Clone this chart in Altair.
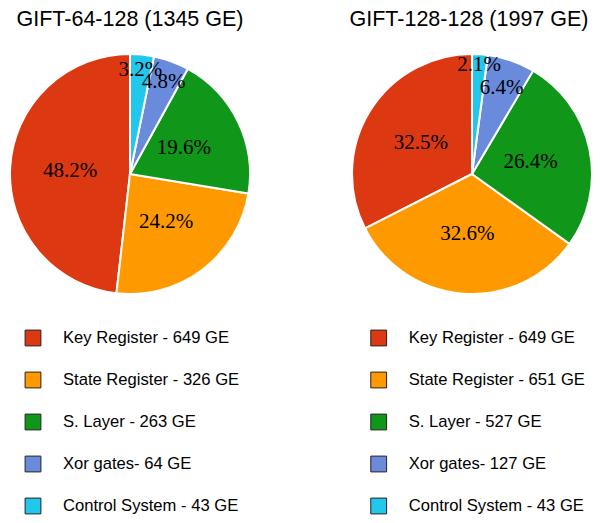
import altair as alt
import pandas as pd

# ---- data ----
models = ["GIFT-64-128", "GIFT-128-128"]
titles = ["GIFT-64-128 (1345 GE)", "GIFT-128-128 (1997 GE)"]
categories = ["Key Register", "State Register", "S. Layer", "Xor gates", "Control System"]
legend_prefix = ["Key Register -", "State Register -", "S. Layer -", "Xor gates-", "Control System -"]
ge_64 = [649, 326, 263, 64, 43]
ge_128 = [649, 651, 527, 127, 43]
pct_64 = [48.2, 24.2, 19.6, 4.8, 3.2]
pct_128 = [32.5, 32.6, 26.4, 6.4, 2.1]
colors = ["#DC3912", "#FF9900", "#109618", "#6A8BDB", "#22C7EC"]
# clockwise drawing order from 12 o'clock (Control first, Key last)
draw_order = [5, 4, 3, 2, 1]

rows = []
for m, ges, pcts in [(models[0], ge_64, pct_64), (models[1], ge_128, pct_128)]:
    for i, c in enumerate(categories):
        rows.append({
            "model": m,
            "category": c,
            "ge": ges[i],
            "pct": pcts[i],
            "ord": draw_order[i],
            "label": f"{legend_prefix[i]} {ges[i]} GE",
        })
df = pd.DataFrame(rows)
tdf = pd.DataFrame({"model": models, "title": titles})

R = 120
pie_x = alt.Scale(type="point", domain=models, range=[122, 464], padding=0)
title_x = alt.Scale(type="point", domain=models, range=[122, 461], padding=0)
legend_x = alt.Scale(type="point", domain=models, range=[25, 370.7], padding=0)
theta_scale = alt.Scale(domain=[0, 100], range=[0, 6.283185307179586])
color_scale = alt.Scale(domain=categories, range=colors)

base = alt.Chart(df).transform_window(
    end="sum(pct)",
    groupby=["model"],
    sort=[alt.SortField("ord")],
    frame=[None, 0],
).transform_calculate(
    start="datum.end - datum.pct",
    mid="datum.end - datum.pct / 2",
    lr=f"{R} * max(0.5, 0.98 - 0.0097 * datum.pct * 3.6)",
    ptxt="format(datum.pct, '.1f') + '%'",
)

arcs = base.mark_arc(radius=R, stroke="white", strokeWidth=2).encode(
    x=alt.X("model:N", scale=pie_x, axis=None),
    y=alt.value(166),
    theta=alt.Theta("start:Q", scale=theta_scale, stack=None),
    theta2="end:Q",
    color=alt.Color("category:N", scale=color_scale, legend=None),
)

pct_text = base.mark_text(
    font="Liberation Serif", fontSize=21, align="center", baseline="middle", color="black"
).encode(
    x=alt.X("model:N", scale=pie_x, axis=None),
    y=alt.value(166),
    theta=alt.Theta("mid:Q", scale=theta_scale, stack=None),
    radius=alt.Radius("lr:Q", scale=None),
    text="ptxt:N",
)

title_text = alt.Chart(tdf).mark_text(
    font="Liberation Sans", fontSize=21.5, align="center", baseline="alphabetic", color="black"
).encode(
    x=alt.X("model:N", scale=title_x, axis=None),
    y=alt.value(17.5),
    text="title:N",
)

yscale = alt.Scale(type="point", domain=categories, range=[330, 498], padding=0)

leg_sq = alt.Chart(df).mark_square(size=250, stroke="#222222", strokeWidth=1, opacity=1).encode(
    x=alt.X("model:N", scale=legend_x, axis=None),
    y=alt.Y("category:N", scale=yscale, axis=None),
    color=alt.Color("category:N", scale=color_scale, legend=None),
)

leg_txt = alt.Chart(df).mark_text(
    font="Liberation Sans", fontSize=16.6, align="left", baseline="middle", color="black", xOffset=30
).encode(
    x=alt.X("model:N", scale=legend_x, axis=None),
    y=alt.Y("category:N", scale=yscale, axis=None),
    text="label:N",
)

chart = alt.layer(arcs, pct_text, title_text, leg_sq, leg_txt).resolve_scale(
    x="independent"
).properties(
    width=584, height=507, padding=0, autosize=alt.AutoSizeParams(type="none")
).configure_view(stroke=None)

chart.save("out.html", embed_options={"renderer": "svg", "actions": False})
